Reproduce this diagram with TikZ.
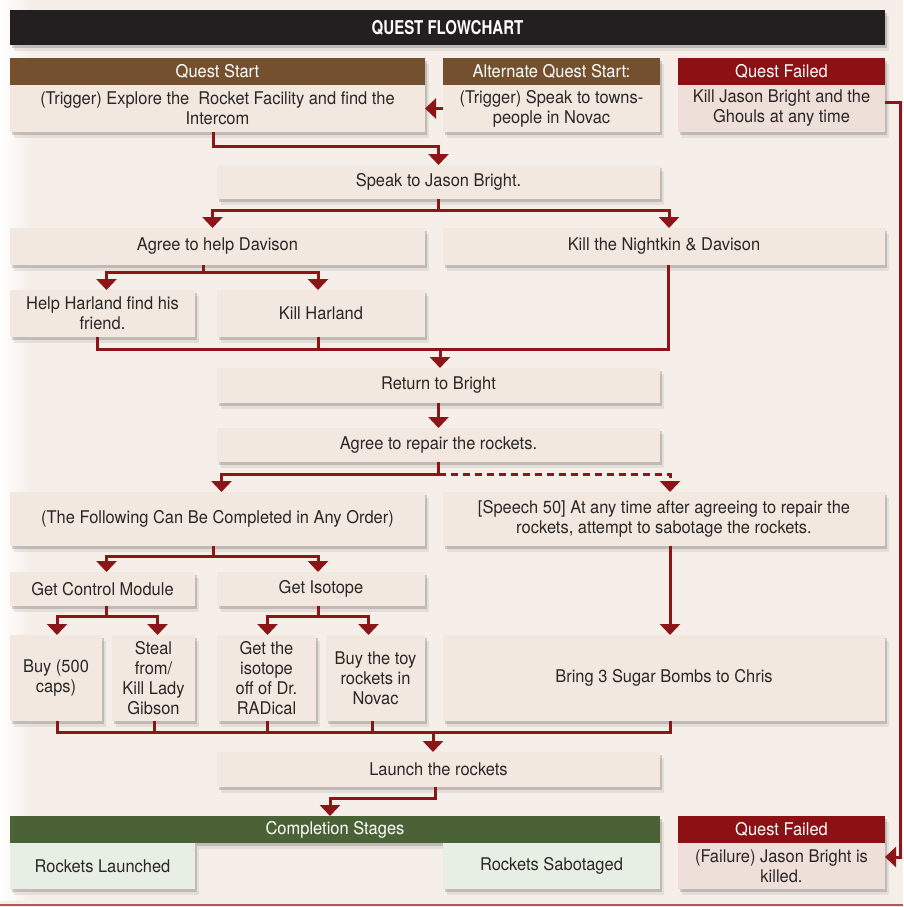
\documentclass[tikz,border=0pt]{standalone}
\usepackage{fontspec}
\setmainfont{TeX Gyre Heros}[FakeStretch=0.94]
\newfontfamily\titlefont{TeX Gyre Heros}[FakeStretch=0.79]
\usetikzlibrary{arrows.meta,shadows,calc}
\definecolor{bgc}{HTML}{F6EFE9}
\definecolor{bodyc}{HTML}{F2E8DF}
\definecolor{brownc}{HTML}{74502E}
\definecolor{redc}{HTML}{8B1115}
\definecolor{failc}{HTML}{EEDFD8}
\definecolor{greenc}{HTML}{4A6236}
\definecolor{gbodyc}{HTML}{E7EFE4}
\definecolor{darkc}{HTML}{231F20}
\definecolor{arrc}{HTML}{8B1517}
\definecolor{txtc}{HTML}{2A2726}
\newcommand\bx[7][]{\node[box,#1,minimum width=#4pt-#2pt,minimum height=#5pt-#3pt] (#6) at ({(#2+#4)/2},{(#3+#5)/2}) {#7};}
\begin{document}
\begin{tikzpicture}[x=1pt,y=-1pt,
  box/.style={rectangle,fill=bodyc,inner sep=0pt,outer sep=0pt,align=center,text=txtc,
    font=\fontsize{17.5}{20}\selectfont,
    general shadow={shadow xshift=4pt,shadow yshift=-6pt,fill=black,opacity=0.07},
    general shadow={shadow xshift=2pt,shadow yshift=-3pt,fill=black,opacity=0.16}},
  hbrown/.style={fill=brownc,text=white},
  hred/.style={fill=redc,text=white},
  hgreen/.style={fill=greenc,text=white},
  failbody/.style={fill=failc},
  gbody/.style={fill=gbodyc},
  ln/.style={draw=arrc,line width=3pt},
  arr/.style={ln,-{Triangle[width=20pt,length=11pt]}},
  dsh/.style={dash pattern=on 7pt off 5pt}]
\useasboundingbox (0,0) rectangle (903,907);
\fill[bgc] (0,0) rectangle (903,907);
\shade[left color=white,right color=bgc,shading angle=90] (0,0) rectangle (30,900);
\draw[draw=redc!70,line width=1.5pt] (0,905) -- (903,905);
% header
\bx[fill=darkc,text=white,font=\fontsize{19}{22}\titlefont\bfseries]{10}{10}{885}{45}{title}{QUEST FLOWCHART}
% row 1
\bx[hbrown]{10}{58}{425}{85}{qsh}{Quest Start}
\bx{10}{85}{425}{132}{qsb}{(Trigger) Explore the\ \ Rocket Facility and find the\\Intercom}
\bx[hbrown]{443}{58}{660}{85}{alth}{Alternate Quest Start:}
\bx{443}{85}{660}{132}{altb}{(Trigger) Speak to towns-\\people in Novac}
\bx[hred]{678}{58}{885}{85}{qfh}{Quest Failed}
\bx[failbody]{678}{85}{885}{132}{qfb}{Kill Jason Bright and the\\Ghouls at any time}
% main flow
\bx{217}{165}{660}{199}{speak}{Speak to Jason Bright.}
\bx{10}{228}{425}{265}{agreeh}{Agree to help Davison}
\bx{443}{228}{885}{265}{nightkin}{Kill the Nightkin \& Davison}
\bx{10}{290}{195}{337}{helph}{Help Harland find his\\friend.}
\bx{217}{290}{425}{337}{killh}{Kill Harland}
\bx{217}{368}{660}{403}{ret}{Return to Bright}
\bx{217}{428}{660}{462}{repair}{Agree to repair the rockets.}
\bx{10}{492}{425}{546}{anyorder}{(The Following Can Be Completed in Any Order)}
\bx{443}{492}{885}{546}{speech}{[Speech 50] At any time after agreeing to repair the\\rockets, attempt to sabotage the rockets.}
\bx{10}{572}{195}{606}{gcm}{Get Control Module}
\bx{217}{572}{425}{606}{giso}{Get Isotope}
\bx{10}{635}{102}{721}{buy}{Buy (500\\caps)}
\bx{112}{635}{195}{721}{steal}{Steal\\from/\\Kill Lady\\Gibson}
\bx{217}{635}{316}{721}{dr}{Get the\\isotope\\off of Dr.\\RADical}
\bx{326}{635}{425}{721}{toy}{Buy the toy\\rockets in\\Novac}
\bx{443}{635}{885}{721}{sugar}{Bring 3 Sugar Bombs to Chris}
\bx{217}{752}{660}{787}{launch}{Launch the rockets}
% bottom
\bx[hgreen]{10}{816}{660}{843}{comph}{Completion Stages}
\bx[gbody]{10}{843}{195}{889}{launched}{Rockets Launched}
\bx[gbody]{443}{843}{660}{889}{sabot}{Rockets Sabotaged}
\bx[hred]{678}{816}{885}{843}{qf2h}{Quest Failed}
\bx[failbody]{678}{843}{885}{889}{qf2b}{(Failure) Jason Bright is\\killed.}
% connectors
\draw[arr] (altb.west) -- (qsb.east);
\draw[arr] ([xshift=-4pt]qsb.south) -- ++(0,14) -| (speak.north);
\draw[arr] (speak.south) -- ++(0,11) -| ([xshift=-5pt]agreeh.north);
\draw[arr] (speak.south) -- ++(0,11) -| ([xshift=5pt]nightkin.north);
\draw[arr] ([xshift=-14pt]agreeh.south) -- ++(0,7) -| ([xshift=4pt]helph.north);
\draw[arr] ([xshift=-14pt]agreeh.south) -- ++(0,7) -| ([xshift=-3pt]killh.north);
\coordinate (m1) at (440,349);
\draw[ln] ([xshift=-5pt]helph.south) -- ([xshift=-5pt]helph.south |- m1) -- ([xshift=4pt]nightkin.south |- m1) -- ([xshift=4pt]nightkin.south);
\draw[ln] ([xshift=-3pt]killh.south) -- ([xshift=-3pt]killh.south |- m1);
\draw[arr] (m1) -- (m1 |- ret.north);
\draw[arr] (ret.south) -- (repair.north);
\coordinate (m3) at ($(repair.south)+(0,12)$);
\draw[ln] (repair.south) -- (m3);
\draw[arr] (m3) -| ([xshift=4pt]anyorder.north);
\draw[arr,dsh] (m3) -| ([xshift=6pt]speech.north);
\draw[arr] ([xshift=-4pt]anyorder.south) -- ++(0,10) -| ([xshift=4pt]gcm.north);
\draw[arr] ([xshift=-4pt]anyorder.south) -- ++(0,10) -| ([xshift=-3pt]giso.north);
\draw[arr] ([xshift=4pt]gcm.south) -- ++(0,10) -| ([xshift=1pt]buy.north);
\draw[arr] ([xshift=4pt]gcm.south) -- ++(0,10) -| ([xshift=4pt]steal.north);
\draw[arr] ([xshift=-3pt]giso.south) -- ++(0,10) -| ([xshift=1pt]dr.north);
\draw[arr] ([xshift=-3pt]giso.south) -- ++(0,10) -| ([xshift=-7pt]toy.north);
\draw[arr] ([xshift=6pt]speech.south) -- ([xshift=6pt]sugar.north);
\coordinate (m2) at (433,732);
\draw[ln] ([xshift=1pt]buy.south) -- ([xshift=1pt]buy.south |- m2) -- ([xshift=6pt]sugar.south |- m2) -- ([xshift=6pt]sugar.south);
\draw[ln] ([xshift=1pt]steal.south) -- ([xshift=1pt]steal.south |- m2);
\draw[ln] ([xshift=1pt]dr.south) -- ([xshift=1pt]dr.south |- m2);
\draw[ln] ([xshift=-3pt]toy.south) -- ([xshift=-3pt]toy.south |- m2);
\draw[arr] (m2) -- (m2 |- launch.north);
\draw[arr] ([xshift=-3pt]launch.south) -- ++(0,11) -| ([xshift=-5pt]comph.north);
\draw[arr] ([yshift=6pt]qfb.east) -- ++(15,0) |- ([yshift=9pt]qf2b.east);
\end{tikzpicture}
\end{document}
